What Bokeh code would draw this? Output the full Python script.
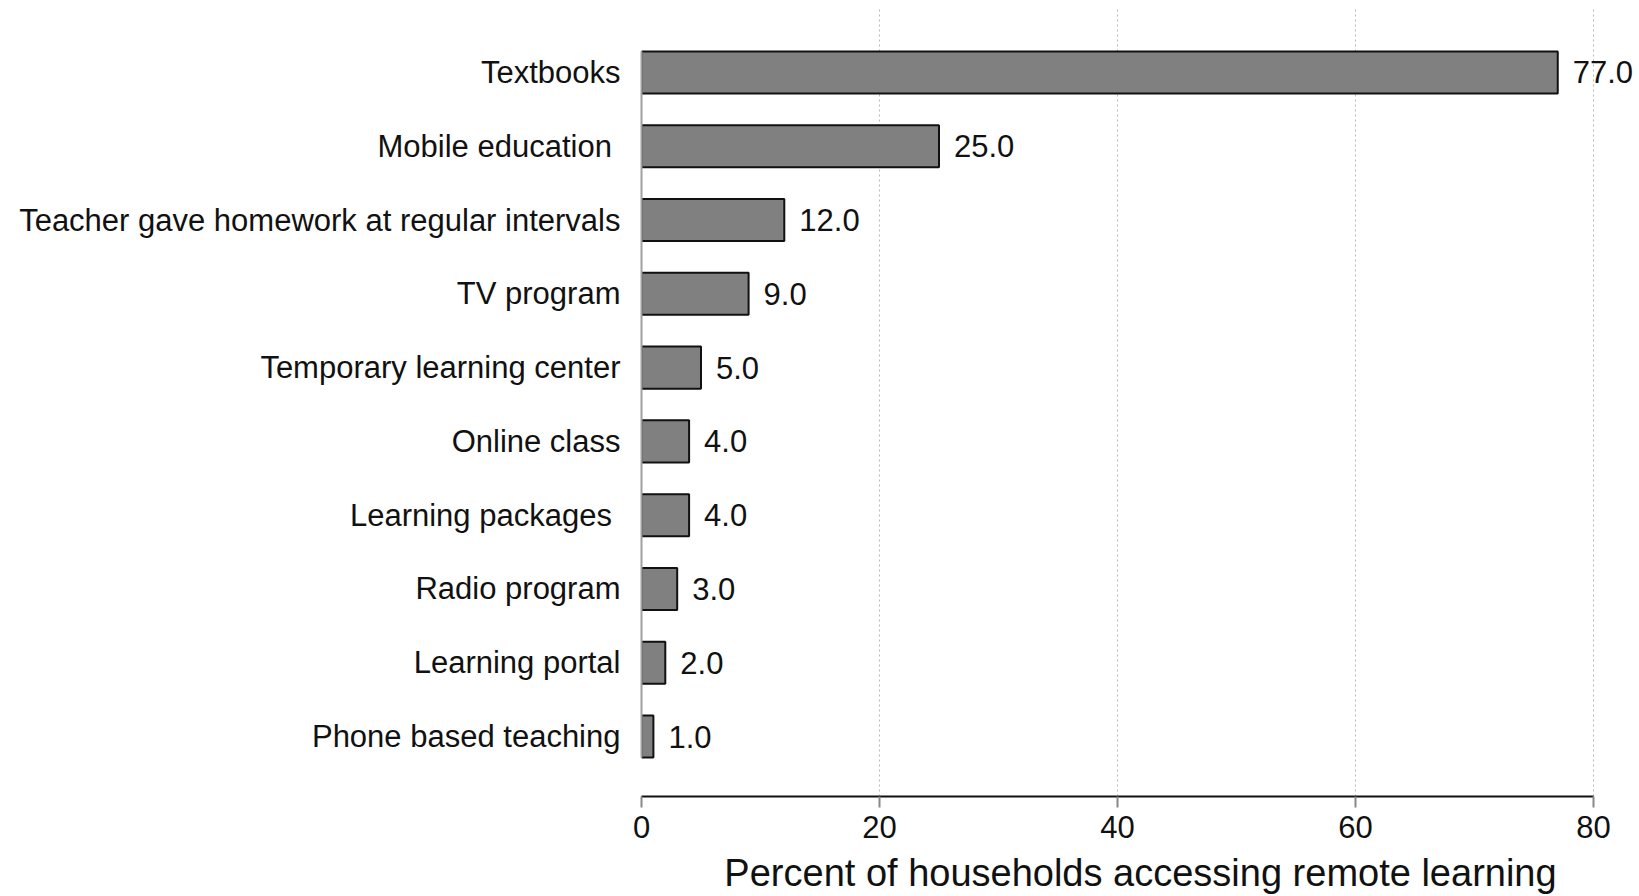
from bokeh.plotting import figure
from bokeh.models import Range1d, FixedTicker, ColumnDataSource
from bokeh.core.properties import value
from bokeh.embed import file_html
from bokeh.resources import INLINE

categories = ["Textbooks", "Mobile education\u00a0", "Teacher gave homework at regular intervals",
              "TV program", "Temporary learning center", "Online class", "Learning packages\u00a0",
              "Radio program", "Learning portal", "Phone based teaching"]
values = [77.0, 25.0, 12.0, 9.0, 5.0, 4.0, 4.0, 3.0, 2.0, 1.0]
x_ticks = [0, 20, 40, 60, 80]
x_title = "Percent of households accessing remote learning"

n = len(categories)
ypos = [n - i for i in range(n)]
labels = ["%.1f" % v for v in values]
src = ColumnDataSource(dict(y=ypos, v=values, lab=labels))

FONT = "Liberation Sans"
FS = "31px"
p = figure(width=1639, height=896, output_backend="svg", toolbar_location=None,
           x_range=Range1d(0, 83.87), y_range=Range1d(0.187, 10.867),
           min_border_left=641, min_border_right=0, min_border_top=8, min_border_bottom=96)
p.outline_line_color = None
p.background_fill_color = "white"
p.border_fill_color = "white"

p.hbar(y="y", right="v", left=0, height=0.57, source=src,
       fill_color="#808080", line_color="#111111", line_width=2)
p.text(x="v", y="y", text="lab", source=src, x_offset=15,
       text_font=value(FONT), text_font_size=FS, text_baseline="middle",
       text_align="left", text_color="#111111")

# x axis
xa = p.xaxis[0]
xa.ticker = FixedTicker(ticks=x_ticks)
xa.bounds = (0, 80)
xa.axis_line_color = "#111111"
xa.axis_line_width = 2
xa.major_tick_line_color = "#888888"
xa.major_tick_line_width = 2
xa.major_tick_out = 11
xa.major_tick_in = 0
xa.minor_tick_line_color = None
xa.major_label_text_font = FONT
xa.major_label_text_font_size = FS
xa.major_label_text_color = "#111111"
xa.major_label_standoff = 8
xa.axis_label = x_title
xa.axis_label_text_font = FONT
xa.axis_label_text_font_size = "38px"
xa.axis_label_text_font_style = "normal"
xa.axis_label_text_color = "#111111"
xa.axis_label_standoff = 11

# y axis
ya = p.yaxis[0]
ya.ticker = FixedTicker(ticks=ypos)
ya.major_label_overrides = {y: c for y, c in zip(ypos, categories)}
ya.bounds = (0.715, 10.285)
ya.axis_line_color = "#a0a0a0"
ya.axis_line_width = 2
ya.major_tick_line_color = None
ya.minor_tick_line_color = None
ya.major_label_text_font = FONT
ya.major_label_text_font_size = FS
ya.major_label_text_color = "#111111"
ya.major_label_standoff = 15

p.xgrid.ticker = FixedTicker(ticks=x_ticks)
p.xgrid.grid_line_color = "#b8b8b8"
p.xgrid.grid_line_dash = "2 3"
p.xgrid.grid_line_width = 1
p.ygrid.grid_line_color = None

open("out.html", "w").write(file_html(p, INLINE))
